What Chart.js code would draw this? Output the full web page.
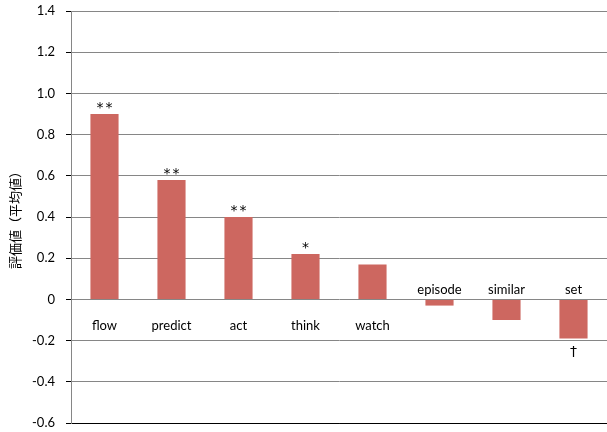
<!DOCTYPE html>
<html>
<head>
<meta charset="utf-8">
<script src="https://cdn.jsdelivr.net/npm/chart.js@4/dist/chart.umd.min.js"></script>
<style>
  html, body { margin: 0; padding: 0; background: #fff; }
  #wrap { width: 607px; height: 432px; position: relative; }
</style>
</head>
<body>
<div id="wrap"><canvas id="chart-score"></canvas></div>
<script>
'use strict';

var categories = ['flow', 'predict', 'act', 'think', 'watch', 'episode', 'similar', 'set'];
var scores = [0.90, 0.58, 0.40, 0.22, 0.17, -0.03, -0.10, -0.19];
var marks = ['**', '**', '**', '*', '', '', '', '\u2020'];
var yTicks = [-0.6, -0.4, -0.2, 0, 0.2, 0.4, 0.6, 0.8, 1.0, 1.2, 1.4];

var labelFont = '13px Lato, "Liberation Sans", sans-serif';

// category names sit next to the zero line, significance marks at the bar ends
var barLabels = {
    id: 'barLabels',
    afterDatasetsDraw: function(chart) {
        var ctx = chart.ctx;
        var meta = chart.getDatasetMeta(0);
        var zeroY = chart.scales.y.getPixelForValue(0);
        ctx.save();
        ctx.fillStyle = '#000';
        ctx.textAlign = 'center';
        meta.data.forEach(function(bar, i) {
            var v = scores[i];
            ctx.font = labelFont;
            ctx.letterSpacing = '0px';
            ctx.textBaseline = 'middle';
            if (v >= 0) {
                ctx.fillText(categories[i], bar.x, zeroY + 26);
            } else {
                ctx.fillText(categories[i], bar.x, zeroY - 10);
            }
            if (!marks[i]) return;
            ctx.font = '14px "DejaVu Sans", sans-serif';
            if (v >= 0) {
                ctx.letterSpacing = '2px';
                ctx.textBaseline = 'alphabetic';
                ctx.fillText(marks[i], bar.x + 1, bar.y - 2);
            } else {
                ctx.textBaseline = 'middle';
                ctx.fillText(marks[i], bar.x, bar.y + 14);
            }
        });
        ctx.restore();
    }
};

var ctx_score = document.getElementById('chart-score').getContext('2d');

var chart_score = new Chart(ctx_score, {
    type: 'bar',
    data: {
        labels: categories,
        datasets: [{
            data: scores,
            backgroundColor: '#cd6760',
            borderWidth: 0,
            barPercentage: 0.42,
            categoryPercentage: 1.0
        }]
    },
    options: {
        responsive: true,
        maintainAspectRatio: false,
        animation: false,
        layout: {
            padding: { top: 11, right: 0, bottom: 9, left: 0 }
        },
        plugins: {
            legend: { display: false },
            tooltip: { enabled: false }
        },
        scales: {
            x: {
                ticks: { display: false },
                grid: { display: false, drawTicks: false },
                border: { display: true, color: '#000', width: 1 }
            },
            y: {
                min: -0.6,
                max: 1.4,
                afterBuildTicks: function(scale) {
                    scale.ticks = yTicks.map(function(v) { return { value: v }; });
                },
                afterFit: function(scale) {
                    scale.width = 71;
                    scale.paddingTop = 0;
                    scale.paddingBottom = 0;
                },
                ticks: {
                    color: '#000',
                    padding: 11,
                    font: { family: 'Lato, "Liberation Sans", sans-serif', size: 13 },
                    callback: function(v) {
                        if (v === 0) return '0';
                        return v.toFixed(1);
                    }
                },
                grid: {
                    color: function(c) {
                        return c.tick && c.tick.value === -0.6 ? '#000' : '#868686';
                    },
                    tickColor: '#000',
                    tickLength: 5,
                    lineWidth: 1
                },
                border: { color: '#868686', width: 1 },
                title: {
                    display: true,
                    text: '評価値（平均値）',
                    color: '#000',
                    padding: { top: 7, bottom: 0 },
                    font: { family: '"Noto Sans CJK JP", sans-serif', size: 13 }
                }
            }
        }
    },
    plugins: [barLabels]
});
</script>
</body>
</html>
